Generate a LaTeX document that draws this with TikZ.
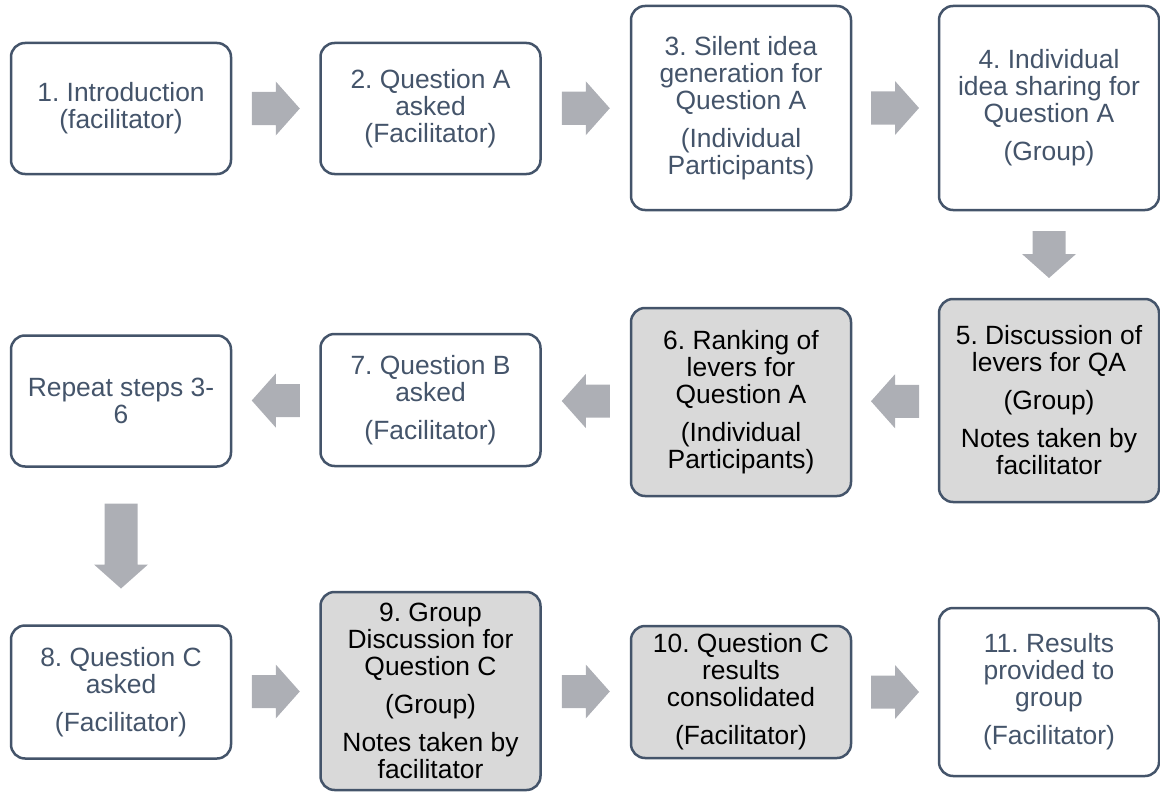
\documentclass[tikz,border=0pt]{standalone}
\usepackage{fontspec}
\setmainfont{Liberation Sans}
\usetikzlibrary{calc}
\frenchspacing

\definecolor{boxline}{HTML}{44546A}
\definecolor{slatetext}{HTML}{44546A}
\definecolor{boxgray}{HTML}{D9D9D9}
\definecolor{arrowgray}{HTML}{ADAFB5}

\begin{document}
\begin{tikzpicture}[x=1pt,y=-1pt,
  stepbox/.style={draw=boxline, line width=2.5pt, rounded corners=14pt,
    align=center, inner sep=0pt, minimum width=220pt,
    font=\fontsize{26.4}{27}\selectfont, text=slatetext, fill=white},
  graybox/.style={stepbox, fill=boxgray, text=black},
  pics/blockarrow/.style={code={
    \fill[arrowgray] (-#1,-16.5) -- (#1-24,-16.5) -- (#1-24,-27) -- (#1,0)
      -- (#1-24,27) -- (#1-24,16.5) -- (-#1,16.5) -- cycle;}}
]
\path[use as bounding box] (0,0) rectangle (1160,792);

% row 1
\node[stepbox, minimum height=131pt] (s1) at (121,108.5)
  {1. Introduction\\(facilitator)};
\node[stepbox, minimum height=131pt] (s2) at (430.5,108.5)
  {2. Question A\\asked\\(Facilitator)};
\node[stepbox, minimum height=204pt] (s3) at (741,108)
  {3. Silent idea\\generation for\\Question A\\[11pt](Individual\\Participants)};
\node[stepbox, minimum height=204pt] (s4) at (1049,108)
  {4. Individual\\idea sharing for\\Question A\\[11pt](Group)};

% row 2
\node[graybox, minimum height=203pt] (s5) at (1049,400.5)
  {5. Discussion of\\levers for QA\\[11pt](Group)\\[11pt]Notes taken by\\facilitator};
\node[graybox, minimum height=188pt] (s6) at (741,402)
  {6. Ranking of\\levers for\\Question A\\[11pt](Individual\\Participants)};
\node[stepbox, minimum height=132pt] (s7) at (430.5,400)
  {7. Question B\\asked\\[11pt](Facilitator)};
\node[stepbox, minimum height=131pt] (rep) at (121,401)
  {Repeat steps 3-\\6};

% row 3
\node[stepbox, minimum height=133pt] (s8) at (121,692)
  {8. Question C\\asked\\[11pt](Facilitator)};
\node[graybox, minimum height=198pt] (s9) at (430.5,691)
  {9. Group\\Discussion for\\Question C\\[11pt](Group)\\[11pt]Notes taken by\\facilitator};
\node[graybox, minimum height=132pt] (s10) at (741,692)
  {10. Question C\\results\\consolidated\\[11pt](Facilitator)};
\node[stepbox, minimum height=168pt] (s11) at (1049,692)
  {11. Results\\provided to\\group\\[11pt](Facilitator)};

% block arrows between consecutive steps
\pic at ($(s1.east)!0.5!(s2.west)$) {blockarrow=24};
\pic at ($(s2.east)!0.5!(s3.west)$) {blockarrow=24};
\pic at ($(s3.east)!0.5!(s4.west)$) {blockarrow=24};
\pic[rotate=-90] at ($(s4.south)!0.5!(s5.north)$) {blockarrow=23.5};
\pic[rotate=180] at ($(s5.west)!0.5!(s6.east)$) {blockarrow=24};
\pic[rotate=180] at ($(s6.west)!0.5!(s7.east)$) {blockarrow=24};
\pic[rotate=180] at ($(s7.west)!0.5!(rep.east)$) {blockarrow=24};
\pic[rotate=-90] at ($(rep.south)!0.5!(s8.north)$) {blockarrow=42.5};
\pic at ($(s8.east)!0.5!(s9.west)$) {blockarrow=24};
\pic at ($(s9.east)!0.5!(s10.west)$) {blockarrow=24};
\pic at ($(s10.east)!0.5!(s11.west)$) {blockarrow=24};
\end{tikzpicture}
\end{document}
